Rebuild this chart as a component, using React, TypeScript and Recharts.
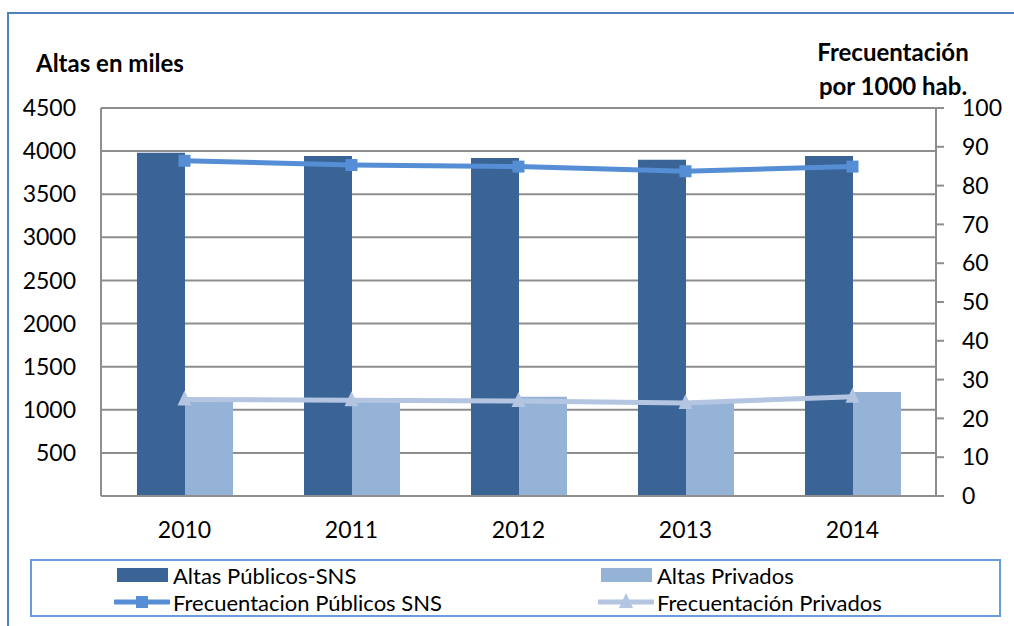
import React from "react";
import {
  ComposedChart,
  Bar,
  Line,
  XAxis,
  YAxis,
  CartesianGrid,
  Legend,
} from "recharts";

const years = ["2010", "2011", "2012", "2013", "2014"];
const altasPublicos = [3982, 3943, 3920, 3900, 3943];
const altasPrivados = [1105, 1133, 1152, 1094, 1206];
const frecPublicos = [86.4, 85.3, 84.9, 83.7, 84.9];
const frecPrivados = [24.9, 24.7, 24.5, 24.0, 25.6];

const leftTicks = [0, 500, 1000, 1500, 2000, 2500, 3000, 3500, 4000, 4500];
const rightTicks = [0, 10, 20, 30, 40, 50, 60, 70, 80, 90, 100];

const data = years.map((y, i) => ({
  year: y,
  altasPub: altasPublicos[i],
  altasPriv: altasPrivados[i],
  frecPub: frecPublicos[i],
  frecPriv: frecPrivados[i],
}));

const DARK = "#3B6496";
const LIGHT = "#95B3D7";
const LINE_PUB = "#558ED5";
const LINE_PRIV = "#B4C5E2";
const GRID = "#8E8E8E";
const FONT = "Lato, 'Open Sans', sans-serif";

const Square = (props: any) => {
  const { cx, cy } = props;
  if (cx == null || cy == null) return null;
  return <rect x={cx - 6} y={cy - 6} width={12} height={12} fill={LINE_PUB} />;
};

const Triangle = (props: any) => {
  const { cx, cy } = props;
  if (cx == null || cy == null) return null;
  return (
    <polygon
      points={`${cx},${cy - 9} ${cx - 7},${cy + 6} ${cx + 7},${cy + 6}`}
      fill={LINE_PRIV}
    />
  );
};

const LegendBox = () => {
  const text: React.CSSProperties = { fontSize: 22, color: "#000", fontFamily: FONT, whiteSpace: "nowrap" };
  const item = (icon: React.ReactNode, label: string, left: number, top: number) => (
    <div style={{ position: "absolute", left, top, display: "flex", alignItems: "center", height: 24 }}>
      <svg width={56} height={20} style={{ marginRight: 3 }}>{icon}</svg>
      <span style={text}>{label}</span>
    </div>
  );
  return (
    <div style={{ position: "relative", width: 967, height: 54 }}>
      {item(<rect x={3} y={3} width={51} height={14} fill={DARK} />, "Altas Públicos-SNS", 82, 2)}
      {item(<rect x={3} y={3} width={51} height={14} fill={LIGHT} />, "Altas Privados", 566, 2)}
      {item(
        <g>
          <line x1={1} y1={10} x2={55} y2={10} stroke={LINE_PUB} strokeWidth={5} strokeLinecap="round" />
          <rect x={22} y={4} width={12} height={12} fill={LINE_PUB} />
        </g>,
        "Frecuentacion Públicos SNS",
        82,
        29
      )}
      {item(
        <g>
          <line x1={1} y1={10} x2={55} y2={10} stroke={LINE_PRIV} strokeWidth={5} strokeLinecap="round" />
          <polygon points="28,1 21,16 35,16" fill={LINE_PRIV} />
        </g>,
        "Frecuentación Privados",
        566,
        29
      )}
    </div>
  );
};

export default function App() {
  return (
    <div style={{ position: "fixed", left: 0, top: 0, width: 1014, height: 626, background: "#fff", overflow: "hidden", fontFamily: FONT }}>
      <div style={{ position: "absolute", left: 7, top: 12, width: 1020, height: 640, borderLeft: "2px solid #4F81BD", borderTop: "2px solid #4F81BD" }} />
      <div style={{ position: "absolute", left: 36, top: 49, fontSize: 24, fontWeight: 700, color: "#000", lineHeight: "28px" }}>
        Altas en miles
      </div>
      <div style={{ position: "absolute", left: 793, top: 35, width: 200, textAlign: "center", fontSize: 24, fontWeight: 700, color: "#000", lineHeight: "34px" }}>
        Frecuentación
        <br />
        por 1000 hab.
      </div>
      <div style={{ position: "absolute", left: 0, top: 0 }}>
        <ComposedChart
          width={1014}
          height={626}
          data={data}
          margin={{ top: 108, right: 0, bottom: 100, left: 0 }}
          barGap={0}
        >
          <CartesianGrid yAxisId="left" vertical={false} stroke={GRID} strokeWidth={2} />
          <XAxis
            dataKey="year"
            height={30}
            tickLine={false}
            tickSize={0}
            tickMargin={26}
            axisLine={{ stroke: GRID, strokeWidth: 2 }}
            tick={{ fill: "#000", fontSize: 23, fontFamily: FONT }}
          />
          <YAxis
            yAxisId="left"
            orientation="left"
            width={101}
            domain={[0, 4500]}
            ticks={leftTicks}
            interval={0}
            tickLine={false}
            tickSize={0}
            tickMargin={25}
            tickFormatter={(v: number) => (v === 0 ? "" : String(v))}
            axisLine={{ stroke: GRID, strokeWidth: 2 }}
            tick={{ fill: "#000", fontSize: 23, fontFamily: FONT }}
          />
          <YAxis
            yAxisId="right"
            orientation="right"
            width={78}
            domain={[0, 100]}
            ticks={rightTicks}
            interval={0}
            tickSize={8}
            tickMargin={18}
            tickLine={{ stroke: GRID, strokeWidth: 2 }}
            axisLine={{ stroke: GRID, strokeWidth: 2 }}
            tick={{ fill: "#000", fontSize: 23, fontFamily: FONT, textAnchor: "start" }}
          />
          <Bar yAxisId="left" dataKey="altasPub" name="Altas Públicos-SNS" fill={DARK} barSize={48} isAnimationActive={false} />
          <Bar yAxisId="left" dataKey="altasPriv" name="Altas Privados" fill={LIGHT} barSize={48} isAnimationActive={false} />
          <Line
            yAxisId="right"
            dataKey="frecPub"
            name="Frecuentacion Públicos SNS"
            stroke={LINE_PUB}
            strokeWidth={5}
            dot={<Square />}
            activeDot={false}
            isAnimationActive={false}
          />
          <Line
            yAxisId="right"
            dataKey="frecPriv"
            name="Frecuentación Privados"
            stroke={LINE_PRIV}
            strokeWidth={5}
            dot={<Triangle />}
            activeDot={false}
            isAnimationActive={false}
          />
          <Legend
            layout="horizontal"
            verticalAlign="middle"
            align="center"
            content={() => <LegendBox />}
            wrapperStyle={{
              left: 30,
              top: 559,
              width: 967,
              height: 54,
              border: "2px solid #6A9BDA",
              bottom: "auto",
              background: "#fff",
            }}
          />
        </ComposedChart>
      </div>
    </div>
  );
}
